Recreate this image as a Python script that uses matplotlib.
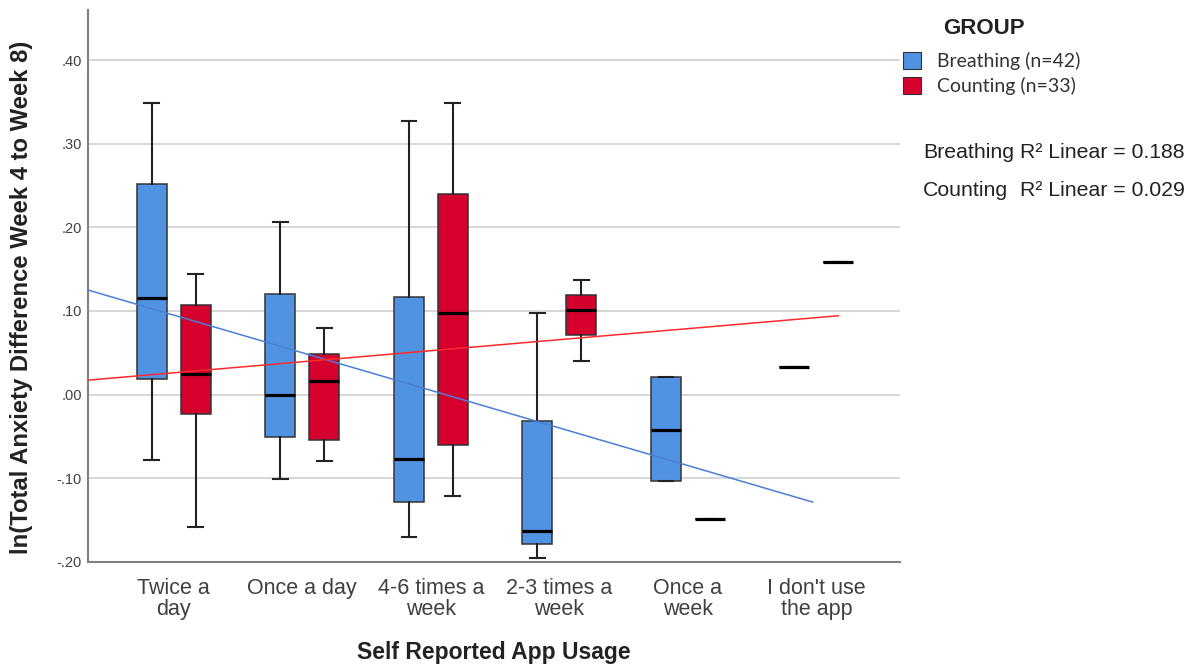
import matplotlib
matplotlib.use("Agg")
import matplotlib.pyplot as plt
from matplotlib.patches import Patch
from matplotlib.ticker import FuncFormatter
import numpy as np

plt.rcParams['font.family'] = ['Liberation Sans', 'DejaVu Sans']

categories = ["Twice a\nday", "Once a day", "4-6 times a\nweek", "2-3 times a\nweek",
              "Once a\nweek", "I don't use\nthe app"]

# Breathing group (n=42) box stats
br_lo = [-0.078, -0.101, -0.170, -0.196, -0.103, 0.033]
br_q1 = [0.018, -0.051, -0.129, -0.179, -0.103, 0.033]
br_med = [0.115, 0.000, -0.077, -0.163, -0.042, 0.033]
br_q3 = [0.252, 0.120, 0.117, -0.032, 0.021, 0.033]
br_hi = [0.349, 0.206, 0.327, 0.098, 0.021, 0.033]

# Counting group (n=33)
ct_lo = [-0.158, -0.080, -0.121, 0.040, -0.149, 0.158]
ct_q1 = [-0.023, -0.054, -0.060, 0.071, -0.149, 0.158]
ct_med = [0.024, 0.016, 0.098, 0.101, -0.149, 0.158]
ct_q3 = [0.107, 0.049, 0.240, 0.119, -0.149, 0.158]
ct_hi = [0.144, 0.079, 0.349, 0.137, -0.149, 0.158]

# linear fit lines (value at first category, slope per category, x range)
br_fit = (0.095, -0.045, -0.666, 4.97)
ct_fit = (0.026, 0.0132, -0.666, 5.17)
r2_labels = ["Breathing", "Counting"]
r2_values = ["0.188", "0.029"]

blue = "#5193e3"
red = "#d5002e"

fig = plt.figure(figsize=(11.99, 6.65), dpi=100)
ax = fig.add_axes([88/1199, 1-561.7/665, 812/1199, 551.7/665])

x = np.arange(len(categories))
off = 0.171
width = 0.233


def stats(lo, q1, med, q3, hi):
    return [dict(whislo=a, q1=b, med=c, q3=d, whishi=e, fliers=[])
            for a, b, c, d, e in zip(lo, q1, med, q3, hi)]


for st, pos, col in [(stats(br_lo, br_q1, br_med, br_q3, br_hi), x - off, blue),
                     (stats(ct_lo, ct_q1, ct_med, ct_q3, ct_hi), x + off, red)]:
    ax.bxp(st, positions=pos, widths=width, patch_artist=True, showfliers=False,
           boxprops=dict(facecolor=col, edgecolor="#333333", linewidth=1.1),
           medianprops=dict(color="black", linewidth=2.3),
           whiskerprops=dict(color="#222222", linewidth=1.5),
           capprops=dict(color="#222222", linewidth=1.5),
           capwidths=0.114, zorder=3)

for fit, col in [(br_fit, "#4a7fd6"), (ct_fit, "#ff2a2a")]:
    b0, b1, xa, xb = fit
    xx = np.array([xa, xb])
    ax.plot(xx, b0 + b1 * xx, color=col, linewidth=1.1, zorder=4)

ax.set_xlim(-0.667, 5.65)
ax.set_ylim(-0.2, 0.46)
ax.set_yticks(np.arange(-0.2, 0.41, 0.1))
ax.yaxis.set_major_formatter(FuncFormatter(lambda v, p: f"{v:.2f}".replace("0.", ".")))
ax.grid(axis="y", color="#d6d6d6", linewidth=1.4, zorder=0)
ax.set_axisbelow(True)
ax.set_xticks(x)
ax.set_xticklabels(categories, fontsize=15.5, color="#404040", linespacing=1.0)
ax.tick_params(axis="x", length=0, pad=12)
ax.tick_params(axis="y", length=0, pad=4.5, labelsize=10.5, labelcolor="#404040")
for s in ["top", "right"]:
    ax.spines[s].set_visible(False)
for s in ["left", "bottom"]:
    ax.spines[s].set_color("#808080")
    ax.spines[s].set_linewidth(1.5)

ax.set_xlabel("Self Reported App Usage", fontsize=16.5, fontweight="bold", color="#222222")
ax.xaxis.set_label_coords(0.5, -(652 - 561.7) / 551.7)
ax.xaxis.label.set_va("center")
fig.text(22/1199, 1-297/665, "ln(Total Anxiety Difference Week 4 to Week 8)", rotation=90,
         ha="center", va="center", fontsize=17.2, fontweight="bold", color="#222222")

# legend
fig.text(943/1199, 1-28/665, "GROUP", fontsize=16, fontweight="bold", color="#222222",
         ha="left", va="center")
handles = [Patch(facecolor=blue, edgecolor="#333333", linewidth=0.8),
           Patch(facecolor=red, edgecolor="#333333", linewidth=0.8)]
fig.legend(handles, ["Breathing (n=42)", "Counting (n=33)"], loc="upper left",
           bbox_to_anchor=(903/1199, 1-52/665), frameon=False, borderpad=0,
           borderaxespad=0, handlelength=0.95, handleheight=0.95, handletextpad=0.8,
           labelspacing=0.35, prop={"family": "Lato", "size": 14}, labelcolor="#333333")

for i, (lab, val) in enumerate(zip(r2_labels, r2_values)):
    yy = 1 - (152 + 38.7 * i) / 665
    fig.text(923/1199, yy, lab, fontsize=15.3, color="#222222", ha="left", va="center")
    fig.text(1020/1199, yy, "R\u00b2 Linear = " + val, fontsize=15.3, color="#222222",
             ha="left", va="center")

fig.savefig("out.png", dpi=100)
